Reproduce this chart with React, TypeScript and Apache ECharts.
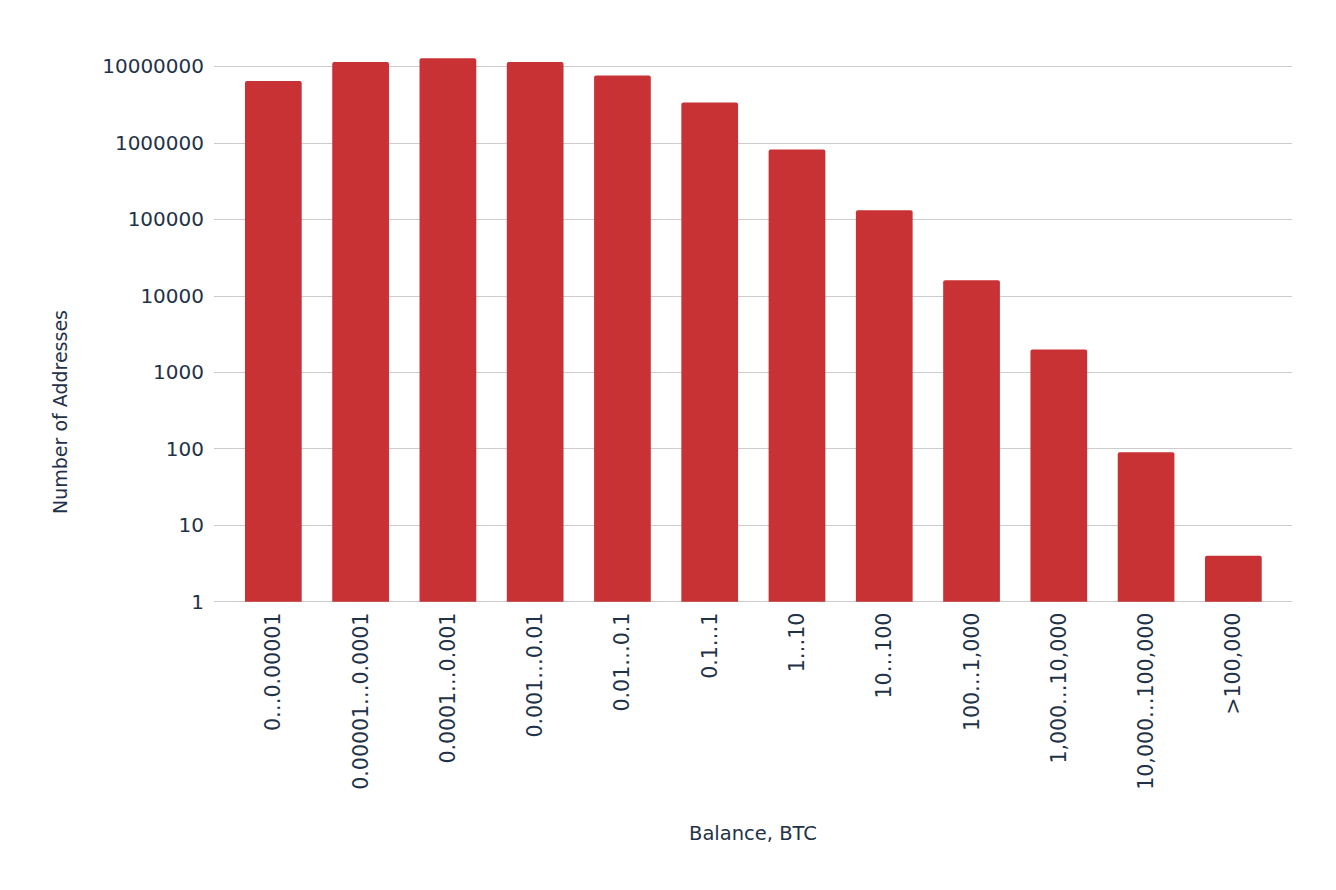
import React, { useEffect, useRef } from "react";
import * as echarts from "echarts";

const categories = [
  "0…0.00001",
  "0.00001…0.0001",
  "0.0001…0.001",
  "0.001…0.01",
  "0.01…0.1",
  "0.1…1",
  "1…10",
  "10…100",
  "100…1,000",
  "1,000…10,000",
  "10,000…100,000",
  ">100,000",
];
const addressCounts = [6400000, 11400000, 12700000, 11400000, 7600000, 3370000, 820000, 131000, 15900, 1990, 90, 4];
const yTitle = "Number of Addresses";
const xTitle = "Balance, BTC";

const FONT = "'DejaVu Sans', Verdana, sans-serif";
const TEXT = "#1f3248";

export default function App() {
  const ref = useRef<HTMLDivElement>(null);
  useEffect(() => {
    if (!ref.current) return;
    const chart = echarts.init(ref.current, undefined, { renderer: "svg" });
    const top = 66.3;
    const bottom = 890 - 601.7;
    chart.setOption({
      animation: false,
      backgroundColor: "#ffffff",
      grid: [
        { left: 214, right: 44, top, bottom },
        { left: 229.7, right: 59, top, bottom },
      ],
      xAxis: [
        { gridIndex: 0, type: "value", min: 0, max: 1, show: false },
        {
          gridIndex: 1,
          type: "category",
          data: categories,
          axisLine: { show: false },
          axisTick: { show: false },
          axisLabel: {
            rotate: 90,
            margin: 11,
            fontSize: 20.5,
            fontFamily: FONT,
            color: TEXT,
            interval: 0,
          },
        },
      ],
      yAxis: [
        {
          gridIndex: 0,
          type: "log",
          logBase: 10,
          min: 1,
          max: 10000000,
          axisLine: { show: false },
          axisTick: { show: false },
          axisLabel: {
            margin: 10,
            fontSize: 20,
            fontFamily: FONT,
            color: TEXT,
            formatter: (v: number) => String(Math.round(v)),
          },
          splitLine: { show: true, lineStyle: { color: "#cccccc", width: 1 } },
        },
        {
          gridIndex: 1,
          type: "log",
          logBase: 10,
          min: 1,
          max: 10000000,
          show: false,
          splitLine: { show: false },
        },
      ],
      graphic: [
        {
          type: "text",
          x: 60,
          y: 412,
          rotation: Math.PI / 2,
          style: {
            text: yTitle,
            fontSize: 19,
            fontFamily: FONT,
            fill: TEXT,
            align: "center",
            verticalAlign: "middle",
          },
        },
        {
          type: "text",
          x: 753,
          y: 833,
          style: {
            text: xTitle,
            fontSize: 19.5,
            fontFamily: FONT,
            fill: TEXT,
            align: "center",
            verticalAlign: "middle",
          },
        },
      ],
      series: [
        {
          type: "bar",
          xAxisIndex: 1,
          yAxisIndex: 1,
          data: addressCounts,
          clip: false,
          barCategoryGap: "35%",
          itemStyle: { color: "#c83235", borderRadius: [2, 2, 0, 0] },
        },
      ],
    });
    return () => chart.dispose();
  }, []);
  return (
    <div
      ref={ref}
      style={{ position: "absolute", left: 0, top: 0, width: 1336, height: 890 }}
    />
  );
}
